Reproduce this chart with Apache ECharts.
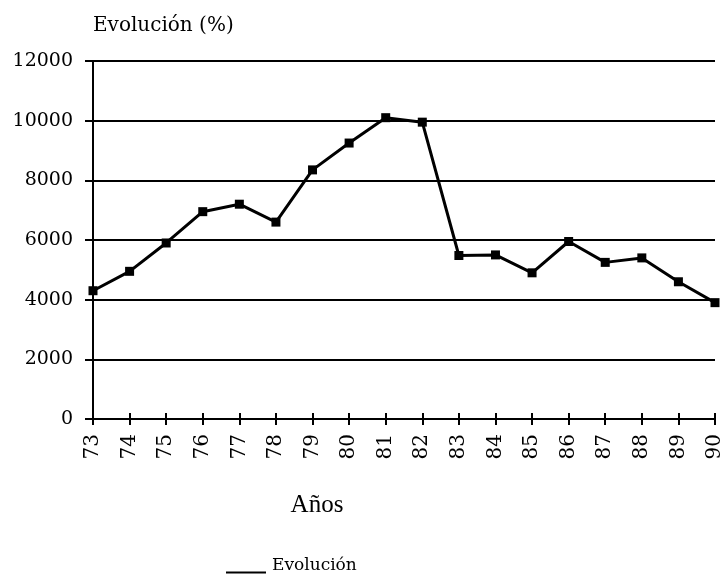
<!DOCTYPE html>
<html>
<head>
<meta charset="utf-8">
<script src="https://cdn.jsdelivr.net/npm/echarts@6/dist/echarts.min.js"></script>
<style>html,body{margin:0;padding:0;background:#fff}#c{width:726px;height:577px}</style>
</head>
<body>
<div id="c"></div>
<script>
var years = ['73','74','75','76','77','78','79','80','81','82','83','84','85','86','87','88','89','90'];
var evolucion = [4300,4950,5900,6950,7200,6600,8350,9250,10100,9950,5480,5500,4900,5950,5250,5400,4600,3900];
var yTicks = {min: 0, max: 12000, interval: 2000};
var serif = 'DejaVu Serif';

var chart = echarts.init(document.getElementById('c'), null, {renderer: 'canvas'});
chart.setOption({
  backgroundColor: '#fff',
  animation: false,
  title: [
    {text: 'Evolución (%)', left: 88, top: 11,
     textStyle: {fontFamily: serif, fontSize: 20, fontWeight: 'normal', color: '#000'}},
    {text: 'Años', left: 312, top: 488, textAlign: 'center',
     textStyle: {fontFamily: 'Liberation Serif', fontSize: 25, fontWeight: 'normal', color: '#000'}}
  ],
  legend: {
    left: 221, top: 552,
    itemWidth: 42, itemHeight: 16, itemGap: 9,
    icon: 'path://M0,0 L40,0 L40,0.01 Z M0,14 L40,14 L40,16 L0,16 Z',
    textStyle: {fontFamily: serif, fontSize: 17, color: '#000'},
    data: [{name: 'Evolución', itemStyle: {color: '#000'}}]
  },
  grid: {left: 93, right: 11, top: 61, bottom: 158, containLabel: false},
  xAxis: [
    {type: 'category', data: years, boundaryGap: false,
     axisLine: {lineStyle: {color: '#000', width: 2}},
     axisTick: {show: true, length: 6, lineStyle: {color: '#000', width: 2}},
     axisLabel: {rotate: 90, margin: 15, fontFamily: serif, fontSize: 20, color: '#000'}},
    {type: 'category', data: years, boundaryGap: false, position: 'bottom',
     axisLine: {show: false},
     axisTick: {show: true, inside: true, length: 6, lineStyle: {color: '#000', width: 2}},
     axisLabel: {show: false}}
  ],
  yAxis: {type: 'value', min: yTicks.min, max: yTicks.max, interval: yTicks.interval,
    axisLine: {show: true, lineStyle: {color: '#000', width: 2}},
    axisTick: {show: true, length: 8, lineStyle: {color: '#000', width: 2}},
    splitLine: {show: true, lineStyle: {color: '#000', width: 2}},
    axisLabel: {margin: 20, fontFamily: serif, fontSize: 19, color: '#000',
      formatter: function (v) { return String(v); }}},
  series: [{
    name: 'Evolución', type: 'line', data: evolucion, xAxisIndex: 0,
    symbol: 'rect', symbolSize: 9,
    lineStyle: {color: '#000', width: 3},
    itemStyle: {color: '#000'}
  }]
});
</script>
</body>
</html>
